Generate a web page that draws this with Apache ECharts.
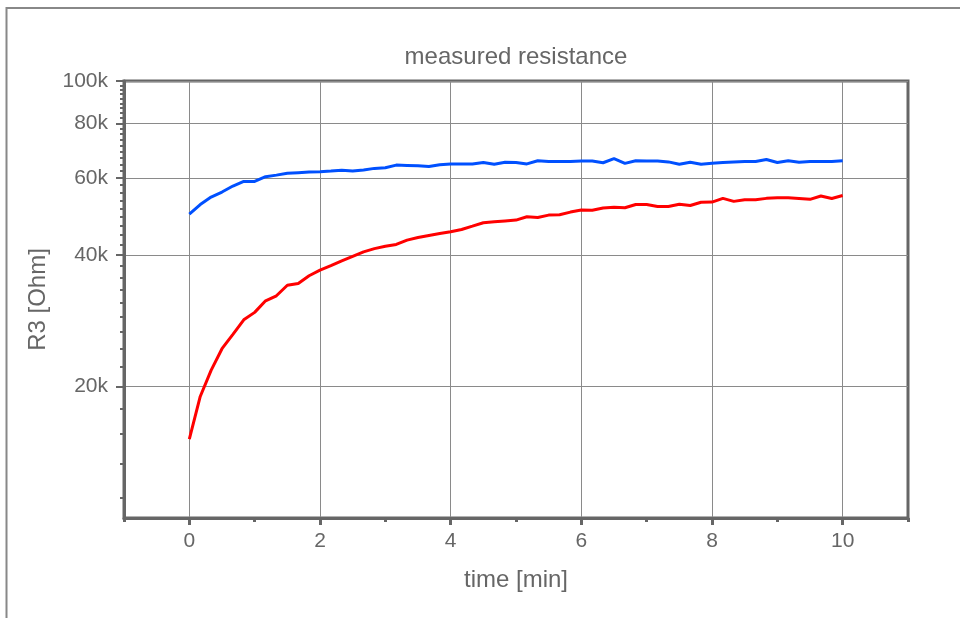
<!DOCTYPE html>
<html>
<head>
<meta charset="utf-8">
<script src="https://cdn.jsdelivr.net/npm/echarts@6/dist/echarts.min.js"></script>
<style>
html, body { margin: 0; padding: 0; background: #fff; }
#main { width: 960px; height: 618px; }
</style>
</head>
<body>
<div id="main"></div>
<script>
// time in minutes, one sample every 10 s
var timeMin = [
	0, 0.167, 0.333, 0.5, 0.667, 0.833, 1, 1.167, 1.333, 1.5,
	1.667, 1.833, 2, 2.167, 2.333, 2.5, 2.667, 2.833, 3, 3.167,
	3.333, 3.5, 3.667, 3.833, 4, 4.167, 4.333, 4.5, 4.667, 4.833,
	5, 5.167, 5.333, 5.5, 5.667, 5.833, 6, 6.167, 6.333, 6.5,
	6.667, 6.833, 7, 7.167, 7.333, 7.5, 7.667, 7.833, 8, 8.167,
	8.333, 8.5, 8.667, 8.833, 9, 9.167, 9.333, 9.5, 9.667, 9.833, 10
];
var blueOhm = [
	49600, 52150, 54250, 55700, 57500, 58900, 58900, 60400, 60900, 61500,
	61700, 61900, 62000, 62200, 62500, 62200, 62600, 63100, 63300, 64200,
	64100, 64000, 63700, 64300, 64600, 64600, 64600, 65100, 64500, 65200,
	65100, 64600, 65700, 65400, 65400, 65400, 65600, 65600, 65000, 66400,
	64800, 65700, 65600, 65600, 65300, 64500, 65200, 64500, 64800, 65100,
	65300, 65400, 65400, 66100, 65100, 65700, 65200, 65400, 65400, 65400, 65700
];
var redOhm = [
	15150, 18970, 21760, 24400, 26320, 28410, 29550, 31410, 32250, 34090,
	34400, 35840, 36900, 37790, 38760, 39670, 40640, 41340, 41880, 42260,
	43230, 43830, 44320, 44760, 45190, 45740, 46550, 47390, 47620, 47840,
	48050, 48890, 48730, 49330, 49410, 50120, 50650, 50600, 51200, 51390,
	51280, 52150, 52150, 51600, 51600, 52240, 51880, 52790, 52840, 53880,
	53030, 53490, 53490, 53880, 54030, 54030, 53830, 53600, 54540, 53830, 54680
];
var xMajorTicks = [0, 2, 4, 6, 8, 10];
var xMinorTicks = [-1, 1, 3, 5, 7, 9, 11];
var yMajorTicks = [20000, 40000, 60000, 80000, 100000];
// minor ticks: 9 steps per 20k
var yMinorTicks = [];
for (var k = 5; k <= 45; k++) {
	yMinorTicks.push(Math.round(k * 20000 / 9));
}

function pairs(xs, ys) {
	var out = [];
	for (var i = 0; i < xs.length; i++) {
		out.push([xs[i], ys[i]]);
	}
	return out;
}

var FONT = 'Liberation Sans, Arial, sans-serif';
var GREY = '#666';

var myChart = echarts.init(document.getElementById('main'));

var option = {
	animation: false,
	backgroundColor: '#fff',
	graphic: [{
		type: 'rect',
		silent: true,
		z: -10,
		shape: { x: 6.5, y: 8, width: 1200, height: 900 },
		style: { fill: 'none', stroke: '#888', lineWidth: 2 }
	}],
	title: {
		text: 'measured resistance',
		left: 516,
		top: 45,
		padding: 0,
		textAlign: 'center',
		textStyle: { fontFamily: FONT, fontSize: 24, fontWeight: 'normal', color: GREY }
	},
	grid: {
		left: 124,
		right: 52,
		top: 81,
		bottom: 100,
		show: true,
		borderColor: GREY,
		borderWidth: 3,
		backgroundColor: 'transparent'
	},
	xAxis: [{
		type: 'value',
		position: 'bottom',
		min: -1,
		max: 11,
		name: 'time [min]',
		nameLocation: 'middle',
		nameGap: 50,
		nameTextStyle: { fontFamily: FONT, fontSize: 24, color: GREY },
		axisLine: { show: true, onZero: false, lineStyle: { color: GREY, width: 3 } },
		axisTick: { show: true, customValues: xMajorTicks, length: 7, lineStyle: { color: GREY, width: 3 } },
		axisLabel: { customValues: xMajorTicks, margin: 13, fontFamily: FONT, fontSize: 21, color: GREY },
		splitLine: { show: true, lineStyle: { color: '#8a8a8a', width: 1 } }
	}, {
		type: 'value',
		position: 'bottom',
		min: -1,
		max: 11,
		axisLine: { show: false, onZero: false },
		axisTick: { show: true, customValues: xMinorTicks, length: 4, lineStyle: { color: GREY, width: 3 } },
		axisLabel: { show: false },
		splitLine: { show: false }
	}],
	yAxis: [{
		type: 'log',
		logBase: 10,
		position: 'left',
		min: 10000,
		max: 100000,
		name: 'R3 [Ohm]',
		nameLocation: 'middle',
		nameGap: 74,
		nameTextStyle: { fontFamily: FONT, fontSize: 24, color: GREY },
		axisLine: { show: true, onZero: false, lineStyle: { color: GREY, width: 3 } },
		axisTick: { show: true, customValues: yMajorTicks, length: 8, lineStyle: { color: GREY, width: 2 } },
		axisLabel: {
			customValues: yMajorTicks,
			margin: 16,
			fontFamily: FONT,
			fontSize: 21,
			color: GREY,
			formatter: function (v) { return Math.round(v / 1000) + 'k'; }
		},
		splitLine: { show: true, lineStyle: { color: '#8a8a8a', width: 1 } }
	}, {
		type: 'log',
		logBase: 10,
		position: 'left',
		min: 10000,
		max: 100000,
		axisLine: { show: false, onZero: false },
		axisTick: { show: true, customValues: yMinorTicks, length: 4, lineStyle: { color: GREY, width: 2 } },
		axisLabel: { show: false },
		splitLine: { show: false }
	}],
	series: [{
		name: 'blue',
		type: 'line',
		xAxisIndex: 0,
		yAxisIndex: 0,
		showSymbol: false,
		data: pairs(timeMin, blueOhm),
		lineStyle: { color: '#0050ff', width: 3 },
		itemStyle: { color: '#0050ff' }
	}, {
		name: 'red',
		type: 'line',
		xAxisIndex: 0,
		yAxisIndex: 0,
		showSymbol: false,
		data: pairs(timeMin, redOhm),
		lineStyle: { color: '#ff0000', width: 3 },
		itemStyle: { color: '#ff0000' }
	}]
};

myChart.setOption(option);
</script>
</body>
</html>
